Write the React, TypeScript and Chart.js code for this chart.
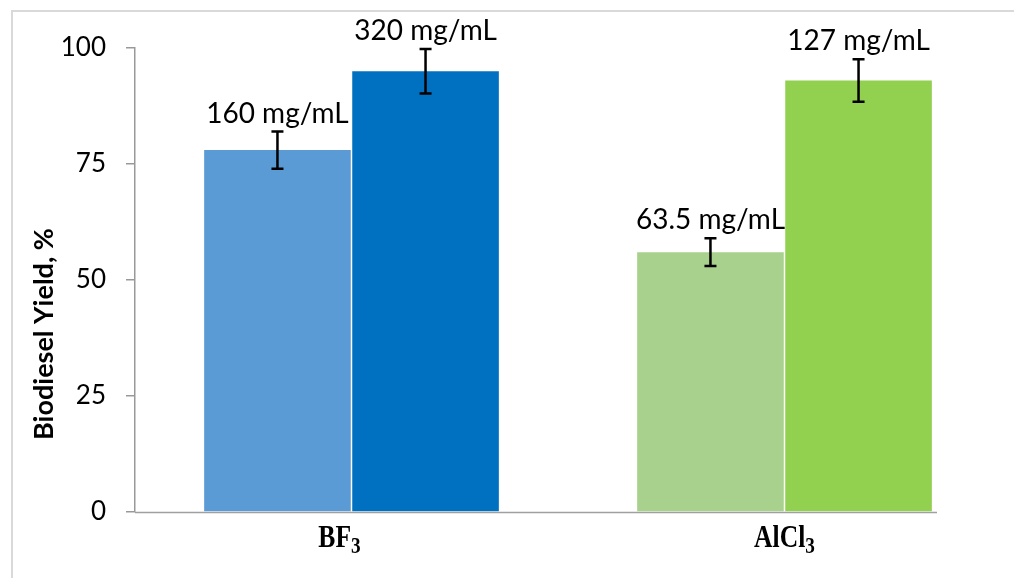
import React, { useEffect, useRef } from "react";
import { Chart, registerables } from "chart.js";

Chart.register(...registerables);

const categories = ["BF₃", "AlCl₃"];
const lowValues = [78, 56];
const highValues = [95, 93];
const lowErrors = [4, 3];
const highErrors = [4.8, 4.6];
const lowLabels = ["160 mg/mL", "63.5 mg/mL"];
const highLabels = ["320 mg/mL", "127 mg/mL"];
const lowColors = ["#5b9bd5", "#a9d18e"];
const highColors = ["#0070c0", "#92d050"];
const yTicks = [0, 25, 50, 75, 100];
const yTitle = "Biodiesel Yield, %";

const errors = [lowErrors, highErrors];
const valueLabels = [lowLabels, highLabels];

const SUBS: Record<string, string> = { "₀": "0", "₁": "1", "₂": "2", "₃": "3", "₄": "4", "₅": "5", "₆": "6", "₇": "7", "₈": "8", "₉": "9" };

function splitSub(text: string) {
  const parts: { t: string; sub: boolean }[] = [];
  for (const ch of text) {
    const sub = ch in SUBS;
    const c = sub ? SUBS[ch] : ch;
    const last = parts[parts.length - 1];
    if (last && last.sub === sub) last.t += c;
    else parts.push({ t: c, sub });
  }
  return parts;
}

const overlayPlugin = {
  id: "overlay",
  afterDatasetsDraw(chart: any) {
    const ctx = chart.ctx;
    const yScale = chart.scales.y;
    const area = chart.chartArea;
    ctx.save();
    // x axis line (shorter than category span)
    ctx.strokeStyle = "#a0a0a0";
    ctx.lineWidth = 1.5;
    ctx.beginPath();
    ctx.moveTo(area.left, area.bottom + 0.5);
    ctx.lineTo(area.right - 64, area.bottom + 0.5);
    ctx.stroke();

    chart.data.datasets.forEach((ds: any, di: number) => {
      const meta = chart.getDatasetMeta(di);
      meta.data.forEach((bar: any, i: number) => {
        const v = ds.data[i];
        const e = errors[di][i];
        const x = bar.x;
        const top = yScale.getPixelForValue(v + e);
        const bottom = yScale.getPixelForValue(v - e);
        ctx.strokeStyle = "#000";
        ctx.lineWidth = 2.5;
        ctx.beginPath();
        ctx.moveTo(x, top);
        ctx.lineTo(x, bottom);
        ctx.moveTo(x - 6, top);
        ctx.lineTo(x + 6, top);
        ctx.moveTo(x - 6, bottom);
        ctx.lineTo(x + 6, bottom);
        ctx.stroke();

        ctx.fillStyle = "#000";
        ctx.font = "28px Lato";
        ctx.textAlign = "center";
        ctx.textBaseline = "alphabetic";
        ctx.fillText(valueLabels[di][i], x, top - 9);
      });
    });
    ctx.restore();
  },
  afterDraw(chart: any) {
    const ctx = chart.ctx;
    const area = chart.chartArea;
    // y axis title
    ctx.save();
    ctx.translate(area.left - 91, (area.top + area.bottom) / 2 + 54);
    ctx.rotate(-Math.PI / 2);
    ctx.font = "bold 27px Lato";
    ctx.fillStyle = "#000";
    ctx.textAlign = "center";
    ctx.textBaseline = "middle";
    ctx.fillText(yTitle, 0, 0);
    ctx.restore();

    // category labels with subscripts
    const m0 = chart.getDatasetMeta(0);
    const m1 = chart.getDatasetMeta(1);
    const mainFont = "bold 32px 'Liberation Serif', serif";
    const subFont = "bold 24px 'Liberation Serif', serif";
    const sx = 0.8;
    categories.forEach((cat: string, i: number) => {
      const cx = (m0.data[i].x + m1.data[i].x) / 2 - (i === 0 ? 12 : 0);
      const parts = splitSub(cat);
      let w = 0;
      parts.forEach((p) => {
        ctx.font = p.sub ? subFont : mainFont;
        w += ctx.measureText(p.t).width;
      });
      ctx.save();
      ctx.translate(cx, area.bottom + 35);
      ctx.scale(sx, 1);
      ctx.fillStyle = "#000";
      ctx.textAlign = "left";
      ctx.textBaseline = "alphabetic";
      let xx = -w / 2;
      parts.forEach((p) => {
        ctx.font = p.sub ? subFont : mainFont;
        ctx.fillText(p.t, xx, p.sub ? 6 : 0);
        xx += ctx.measureText(p.t).width;
      });
      ctx.restore();
    });
  },
};

export default function App() {
  const canvasRef = useRef<HTMLCanvasElement | null>(null);

  useEffect(() => {
    document.body.style.margin = "0";
    const canvas = canvasRef.current;
    if (!canvas) return;
    const chart = new Chart(canvas, {
      type: "bar",
      data: {
        labels: categories,
        datasets: [
          {
            label: "Low concentration",
            data: lowValues,
            backgroundColor: lowColors,
            categoryPercentage: 0.684,
            barPercentage: 0.99,
          },
          {
            label: "High concentration",
            data: highValues,
            backgroundColor: highColors,
            categoryPercentage: 0.684,
            barPercentage: 0.99,
          },
        ],
      },
      options: {
        animation: false,
        responsive: false,
        devicePixelRatio: 1,
        layout: { padding: { top: 48, right: 13, bottom: 0, left: 0 } },
        plugins: {
          legend: { display: false },
          tooltip: { enabled: false },
        },
        scales: {
          x: {
            grid: { display: false },
            border: { display: false },
            ticks: { display: false },
            afterFit(scale: any) {
              scale.height = 66;
            },
          },
          y: {
            min: 0,
            max: 100,
            grid: {
              display: true,
              drawOnChartArea: false,
              drawTicks: true,
              tickLength: 9,
              color: "#999",
              lineWidth: 1.5,
            },
            border: { display: true, color: "#999", width: 1.5 },
            ticks: {
              color: "#000",
              padding: 20,
              font: { family: "Lato", size: 26 },
            },
            afterBuildTicks(scale: any) {
              scale.ticks = yTicks.map((v) => ({ value: v }));
            },
            afterFit(scale: any) {
              scale.width = 135;
            },
          },
        },
      },
      plugins: [overlayPlugin],
    } as any);
    return () => chart.destroy();
  }, []);

  return (
    <div style={{ position: "relative", width: 1014, height: 578, overflow: "hidden", background: "#fff" }}>
      <div
        style={{
          position: "absolute",
          left: 11,
          top: 10,
          width: 1100,
          height: 700,
          borderTop: "2px solid #d9d9d9",
          borderLeft: "2px solid #d9d9d9",
        }}
      />
      <canvas
        ref={canvasRef}
        width={1014}
        height={578}
        style={{ position: "absolute", left: 0, top: 0 }}
      />
    </div>
  );
}
